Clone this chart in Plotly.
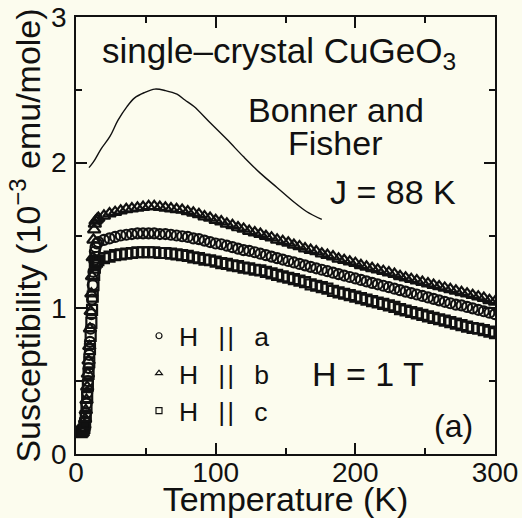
import plotly.graph_objects as go

# ---------------- data ----------------
T_meas = [4.0, 4.5, 5.0, 5.5, 6.0, 6.5, 7.0, 7.5, 8.0, 8.5, 9.0, 9.5, 10.0, 10.5,
          11.0, 11.5, 12.0, 12.5, 13.0, 13.5, 14.0, 15.0,
          16, 20, 24, 28, 32, 36, 40, 44, 48, 52, 56, 60, 64, 68, 72, 76,
          80, 84, 88, 92, 96, 100, 104, 108, 112, 116, 120, 124, 128, 132,
          136, 140, 144, 148, 152, 156, 160, 164, 168, 172, 176, 180, 184, 188,
          192, 196, 200, 204, 208, 212, 216, 220, 224, 228, 232, 236, 240, 244,
          248, 252, 256, 260, 264, 268, 272, 276, 280, 284, 288, 292, 296, 300]

chi_a = [0.155, 0.16, 0.165, 0.17, 0.19, 0.225, 0.28, 0.345, 0.42, 0.50, 0.59, 0.68, 0.77, 0.86,
         0.96, 1.06, 1.16, 1.25, 1.33, 1.39, 1.42, 1.445,
         1.455, 1.47, 1.48, 1.49, 1.50, 1.505, 1.51, 1.515, 1.515, 1.515, 1.515, 1.51, 1.51, 1.505, 1.50, 1.495,
         1.49, 1.48, 1.475, 1.465, 1.455, 1.445, 1.44, 1.43, 1.42, 1.41, 1.40, 1.395, 1.385, 1.375,
         1.365, 1.355, 1.345, 1.335, 1.325, 1.315, 1.305, 1.295, 1.285, 1.275, 1.265, 1.255, 1.245, 1.235,
         1.225, 1.215, 1.205, 1.195, 1.185, 1.175, 1.165, 1.155, 1.145, 1.135, 1.125, 1.115, 1.105, 1.095,
         1.085, 1.075, 1.065, 1.055, 1.045, 1.035, 1.025, 1.02, 1.01, 1.00, 0.99, 0.98, 0.97, 0.96]

chi_b = [0.16, 0.165, 0.17, 0.18, 0.20, 0.24, 0.30, 0.37, 0.46, 0.55, 0.64, 0.74, 0.86, 0.98,
         1.10, 1.22, 1.35, 1.47, 1.54, 1.58, 1.60, 1.61,
         1.62, 1.635, 1.65, 1.66, 1.67, 1.68, 1.685, 1.69, 1.695, 1.70, 1.70, 1.695, 1.69, 1.685, 1.68, 1.675,
         1.665, 1.655, 1.645, 1.63, 1.62, 1.605, 1.595, 1.58, 1.57, 1.555, 1.545, 1.53, 1.52, 1.51,
         1.495, 1.485, 1.47, 1.46, 1.45, 1.435, 1.425, 1.41, 1.40, 1.39, 1.375, 1.365, 1.355, 1.34,
         1.33, 1.32, 1.31, 1.295, 1.285, 1.275, 1.265, 1.255, 1.245, 1.235, 1.22, 1.21, 1.20, 1.19,
         1.18, 1.17, 1.16, 1.15, 1.14, 1.13, 1.12, 1.11, 1.10, 1.09, 1.08, 1.07, 1.055, 1.045]

chi_c = [0.15, 0.155, 0.16, 0.165, 0.18, 0.21, 0.26, 0.32, 0.39, 0.47, 0.55, 0.63, 0.72, 0.81,
         0.90, 0.99, 1.08, 1.16, 1.23, 1.28, 1.31, 1.32,
         1.33, 1.345, 1.355, 1.365, 1.37, 1.375, 1.38, 1.385, 1.385, 1.385, 1.385, 1.38, 1.38, 1.375, 1.37, 1.365,
         1.36, 1.35, 1.345, 1.335, 1.33, 1.32, 1.31, 1.305, 1.295, 1.29, 1.28, 1.275, 1.265, 1.26,
         1.25, 1.24, 1.23, 1.22, 1.21, 1.20, 1.19, 1.18, 1.165, 1.155, 1.145, 1.135, 1.12, 1.11,
         1.10, 1.09, 1.08, 1.07, 1.06, 1.05, 1.04, 1.03, 1.02, 1.01, 0.995, 0.985, 0.975, 0.965,
         0.955, 0.945, 0.935, 0.925, 0.915, 0.905, 0.895, 0.885, 0.875, 0.865, 0.86, 0.85, 0.84, 0.83]

T_bf = [9.3, 12.5, 18, 24.3, 30, 36.5, 42, 48.7, 56.5, 64, 72.3, 78, 84.5, 95.9,
        108, 120, 131.7, 143.9, 156, 165, 176]
chi_bf = [1.966, 2.005, 2.095, 2.18, 2.29, 2.385, 2.445, 2.48, 2.505, 2.495, 2.47, 2.43, 2.385, 2.275,
          2.16, 2.04, 1.93, 1.83, 1.73, 1.665, 1.61]

SEP = "\u00a0\u00a0\u2009|\u200a|\u2009\u00a0\u00a0"
legend_labels = ["H" + SEP + "a", "H" + SEP + "b", "H" + SEP + "c"]
x_ticks = [0, 100, 200, 300]
y_ticks = [0, 1, 2, 3]

BG = "#FCFCEE"
INK = "#111111"
FONT = "Liberation Sans, Arial, sans-serif"

fig = go.Figure()

# Bonner-Fisher curve
fig.add_trace(go.Scatter(x=T_bf, y=chi_bf, mode="lines", line=dict(color=INK, width=1.4, shape="spline"),
                         showlegend=False, hoverinfo="skip"))

series = [(chi_a, "circle-open", 10), (chi_b, "triangle-up-open", 11), (chi_c, "square-open", 10)]
for vals, sym, sz in series:
    fig.add_trace(go.Scatter(x=T_meas, y=vals, mode="markers",
                             marker=dict(symbol=sym, size=sz, color=INK, line=dict(width=2.2, color=INK)),
                             showlegend=False))

# legend entries (small symbols, like the original key)
for lab, (_, sym, _s) in zip(legend_labels, series):
    fig.add_trace(go.Scatter(x=[None], y=[None], mode="markers", name=lab,
                             marker=dict(symbol=sym, size=6, color=INK, line=dict(width=1.2, color=INK))))

def px_x(p):
    return (p - 76) / 419.0

def px_y(p):
    return (454 - p) / 437.0

ann = [
    ("single\u2013crystal CuGeO<sub>3</sub>", 100, 53, "left", 35),
    ("Bonner and", 336, 110, "center", 34),
    ("Fisher", 335, 143, "center", 34),
    ("J = 88 K", 393, 192, "center", 34),
    ("H = 1 T", 368, 374, "center", 34),
    ("(a)", 453, 426, "center", 32),
]
annotations = []
for text, x, y, xa, fs in ann:
    annotations.append(dict(text=text, x=px_x(x), y=px_y(y), xref="paper", yref="paper",
                            xanchor=xa, yanchor="middle", showarrow=False,
                            font=dict(family=FONT, size=fs, color=INK)))

axis_common = dict(showline=True, linecolor=INK, linewidth=1.5, mirror="ticks",
                   ticks="inside", ticklen=11, tickwidth=1.5, tickcolor=INK,
                   showgrid=False, zeroline=False, automargin=False,
                   tickfont=dict(family=FONT, size=28, color=INK))

fig.update_layout(
    width=522, height=518,
    margin=dict(l=76, r=27, t=17, b=64, autoexpand=False),
    paper_bgcolor=BG, plot_bgcolor=BG,
    font=dict(family=FONT, color=INK),
    xaxis=dict(range=[0, 300], tickvals=x_ticks, ticktext=[str(v) for v in x_ticks],
               minor=dict(ticks="inside", ticklen=6, tickwidth=1.5, tickcolor=INK, dtick=50, tick0=0),
               title=dict(text="Temperature (K)", font=dict(family=FONT, size=34, color=INK), standoff=12),
               ticklabelstandoff=-7,
               **axis_common),
    yaxis=dict(range=[0, 3], tickvals=y_ticks, ticktext=[str(v) for v in y_ticks],
               minor=dict(ticks="inside", ticklen=6, tickwidth=1.5, tickcolor=INK, dtick=0.5, tick0=0),
               title=dict(text="Susceptibility (10<sup>\u22123</sup> emu/mole)",
                          font=dict(family=FONT, size=34, color=INK), standoff=0),
               ticklabelstandoff=2,
               **axis_common),
    legend=dict(x=px_x(139), y=px_y(312), xanchor="left", yanchor="top",
                bgcolor="rgba(0,0,0,0)", borderwidth=0, tracegroupgap=0,
                font=dict(family=FONT, size=26.5, color=INK), itemsizing="trace"),
    annotations=annotations,
)

fig.write_html("out.html")
